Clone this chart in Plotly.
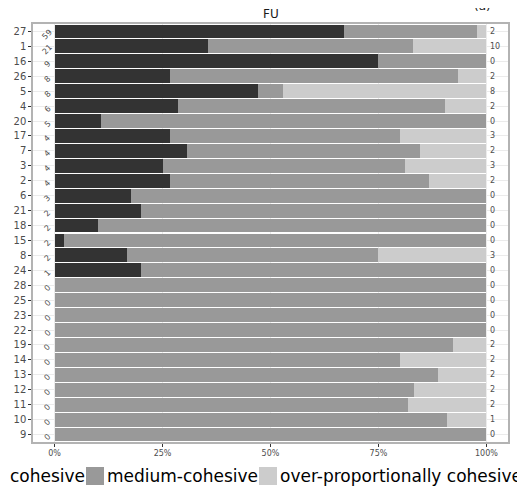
import plotly.graph_objects as go

categories = ["27", "1", "16", "26", "5", "4", "20", "17", "7", "3", "2", "6", "21", "18",
              "15", "8", "24", "28", "25", "23", "22", "19", "14", "13", "12", "11", "10", "9"]
cohesive = [59, 21, 9, 8, 8, 6, 5, 4, 4, 4, 4, 3, 2, 2, 2, 2, 1, 0, 0, 0, 0, 0, 0, 0, 0, 0, 0, 0]
medium = [27, 28, 3, 20, 1, 13, 42, 8, 7, 9, 9, 14, 8, 18, 94, 7, 4, 10, 10, 10, 10, 24, 8, 16, 10, 9, 10, 10]
over = [2, 10, 0, 2, 8, 2, 0, 3, 2, 3, 2, 0, 0, 0, 0, 3, 0, 0, 0, 0, 0, 2, 2, 2, 2, 2, 1, 0]
x_ticks = [0, 0.25, 0.5, 0.75, 1.0]
x_ticktext = ["0%", "25%", "50%", "75%", "100%"]

FONT = "DejaVu Sans"
order = categories[::-1]  # bottom to top
fig = go.Figure()
for name, vals, col in [("cohesive", cohesive, "#333333"),
                        ("medium-cohesive", medium, "#999999"),
                        ("over-proportionally cohesive", over, "#cccccc")]:
    fig.add_trace(go.Bar(y=categories, x=vals, orientation="h", name=name,
                         marker=dict(color=col, line=dict(width=0)),
                         hoverinfo="skip", showlegend=False))

annotations = []
for c, v in zip(categories, cohesive):
    annotations.append(dict(x=-0.017, y=order.index(c), xref="x", yref="y", text=str(v),
                            showarrow=False, textangle=-45, yshift=-3,
                            font=dict(family=FONT, size=8, color="#4d4d4d")))
for c, v in zip(categories, over):
    annotations.append(dict(x=1.004, y=order.index(c), xref="x", yref="y", text=str(v),
                            showarrow=False, xanchor="left",
                            font=dict(family=FONT, size=8, color="#4d4d4d")))

# plot title
annotations.append(dict(x=0.5, y=1.0, xref="paper", yref="paper", yanchor="bottom", yshift=1,
                        text="FU", showarrow=False, font=dict(family=FONT, size=12, color="#1a1a1a")))
annotations.append(dict(x=(493 - 33) / 475, y=1.0, xref="paper", yref="paper", yanchor="bottom",
                        yshift=9, text="(a)", showarrow=False,
                        font=dict(family=FONT, size=12, color="#1a1a1a")))

# legend drawn manually (first swatch falls outside the page)
def px(p):
    return (p - 33) / 475

leg_y = -34 / 418
shapes = []
for x_left, txt in [(8, "cohesive"), (105, "medium-cohesive"), (278, "over-proportionally cohesive")]:
    annotations.append(dict(x=px(x_left), y=leg_y, xref="paper", yref="paper", xanchor="left",
                            yanchor="middle", text=txt, showarrow=False,
                            font=dict(family=FONT, size=17, color="#000000")))
sw_h = 18 / 418
for left, col in [(86, "#999999"), (259, "#cccccc")]:
    shapes.append(dict(type="rect", xref="paper", yref="paper", x0=px(left), x1=px(left + 18),
                       y0=leg_y - sw_h / 2, y1=leg_y + sw_h / 2,
                       fillcolor=col, line=dict(width=0)))

fig.update_layout(
    width=517, height=483,
    margin=dict(l=25, r=17, t=16, b=49, autoexpand=False),
    barmode="stack", barnorm="fraction", bargap=0.07,
    plot_bgcolor="white", paper_bgcolor="white",
    font=dict(family=FONT, color="#333333"),
    annotations=annotations, shapes=shapes,
    showlegend=False,
)
fig.update_xaxes(range=[-0.05, 1.05], tickvals=x_ticks, ticktext=x_ticktext,
                 ticks="outside", ticklen=3, tickcolor="#333333", tickwidth=1,
                 tickfont=dict(family=FONT, size=8, color="#4d4d4d"),
                 showgrid=True, gridcolor="#ebebeb", gridwidth=1, zeroline=False,
                 showline=True, mirror=True, linecolor="#b3b3b3", linewidth=1.5,
                 automargin=False)
fig.update_yaxes(type="category", categoryorder="array", categoryarray=order,
                 range=[-0.5, len(order) - 0.5],
                 ticks="outside", ticklen=3, tickcolor="#333333", tickwidth=1,
                 tickfont=dict(family=FONT, size=10, color="#4d4d4d"),
                 showgrid=True, gridcolor="#ebebeb", gridwidth=1,
                 showline=True, mirror=True, linecolor="#b3b3b3", linewidth=1.5,
                 automargin=False)

fig.write_html("out.html")
